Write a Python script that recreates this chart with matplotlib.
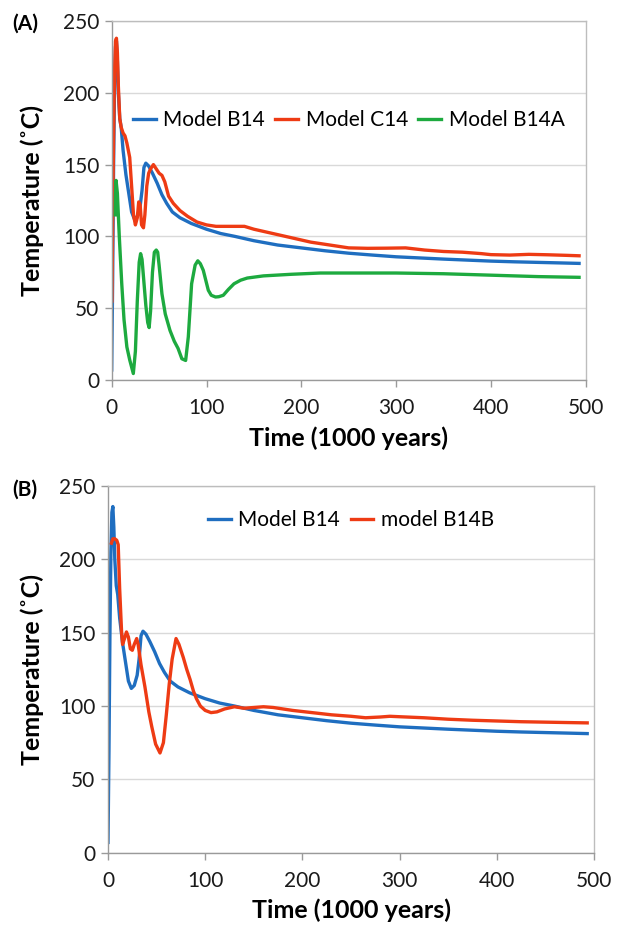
import matplotlib
matplotlib.use("Agg")
import matplotlib.pyplot as plt

plt.rcParams['font.family'] = ['Lato', 'DejaVu Sans']

# ---------------- data ----------------
b14_x = [0, 1, 2, 3, 4, 5, 6, 7, 8.5, 10, 12, 15, 18, 21, 24, 27, 30, 32, 34, 36, 39, 43, 48, 53,
         58, 64, 72, 84, 100, 115, 130, 150, 175, 200, 225, 250, 275, 300, 325, 350, 375, 400,
         425, 450, 475, 493]
b14_y = [7, 70, 150, 205, 232, 236, 222, 200, 182, 176, 160, 143, 130, 117, 112, 114, 121, 132,
         148, 151, 149, 144, 137, 129, 123, 117, 113, 109, 105, 102, 100, 97, 94, 92, 90, 88.3,
         87, 85.8, 85, 84.2, 83.5, 82.8, 82.3, 81.9, 81.5, 81.2]

c14_x = [0.3, 1, 2, 3, 4, 5, 6, 7, 8.5, 10, 12, 14, 16, 19, 21, 23, 25, 27, 28.5, 30, 31.5, 33.5,
         35, 37, 39, 41, 44, 47, 50, 53, 56, 60, 65, 72, 80, 90, 100, 110, 125, 140, 150, 170,
         190, 210, 230, 250, 270, 290, 310, 330, 350, 370, 390, 400, 420, 440, 460, 480, 493]
c14_y = [55, 110, 170, 215, 236, 238, 228, 205, 182, 176, 172, 170, 165, 155, 135, 115, 108, 113,
         124, 122, 108, 106, 115, 135, 144, 147, 150, 147, 144, 142.5, 138, 128, 123, 118, 114,
         110, 108, 107, 107, 107, 105, 102, 99, 96, 94, 92, 91.7, 91.8, 92, 90.5, 89.5, 89, 88,
         87.3, 87, 87.5, 87.2, 86.8, 86.5]

b14a_x = [3.6, 4, 4.6, 6, 8, 10.6, 13, 16, 19, 22.8, 25, 27, 29, 30.5, 32, 34, 36, 38, 39.5, 41,
          43, 45, 47, 48.5, 50, 53, 56.5, 61.5, 66, 70, 74, 78, 80.8, 84.3, 88, 90.8, 93.5, 96.6,
          101.9, 105, 109.5, 113, 117.7, 123, 129, 136, 143, 160, 189, 220, 250, 300, 350, 400,
          450, 493]
b14a_y = [115, 130, 139, 130, 100, 67, 42, 23, 14, 4.5, 20, 55, 82, 88, 84, 68, 52, 40, 36.5, 48,
          75, 89, 90.5, 89, 80, 60, 46, 34.5, 27, 22, 14.8, 13.6, 30, 67, 80, 83, 81, 76.4, 62.5,
          59, 57.8, 58, 59, 63, 67, 69.5, 71, 72.5, 73.6, 74.5, 74.5, 74.5, 74, 73, 72, 71.5]

b14b_x = [3.5, 5, 7, 9, 10.5, 12, 14, 15, 17, 19, 21, 23, 25, 27, 29.5, 31, 34, 38, 42, 45, 49,
          53.5, 57, 60, 63, 66, 70, 73, 77.5, 81, 84.5, 88, 91, 95, 100, 106, 112, 120, 130, 140,
          150, 160, 170, 190, 210, 230, 250, 265, 280, 290, 300, 325, 350, 375, 400, 425, 450,
          475, 493]
b14b_y = [211, 214, 214, 213, 210, 180, 150, 142, 146, 150.5, 147, 139, 138, 142, 146, 142, 128,
          113, 96, 86, 74, 68, 75, 94, 115, 132, 146, 142, 133, 125, 118, 110, 105, 100, 97, 95.5,
          96, 98, 99.5, 98.5, 99, 99.5, 99, 97, 95.5, 94, 93, 92, 92.5, 93, 92.7, 92, 91, 90.3,
          89.8, 89.3, 89, 88.7, 88.5]

x_ticks = [0, 100, 200, 300, 400, 500]
y_ticks = [0, 50, 100, 150, 200, 250]

BLUE = '#1F6EC0'
RED = '#EE3B14'
GREEN = '#1DAA3F'

fig = plt.figure(figsize=(6.18, 9.26), dpi=100)
axA = fig.add_axes([111.7 / 618, 1 - 380 / 926, 474 / 618, 359 / 926])
axB = fig.add_axes([108 / 618, 1 - 852.7 / 926, 486 / 618, 366.7 / 926])


def style(ax):
    ax.set_xlim(0, 500)
    ax.set_ylim(0, 250)
    ax.set_xticks(x_ticks)
    ax.set_yticks(y_ticks)
    ax.set_xticklabels([str(v) for v in x_ticks])
    ax.set_yticklabels([str(v) for v in y_ticks])
    ax.grid(axis='y', color='#d9d9d9', linewidth=1.0)
    ax.set_axisbelow(True)
    for s in ['left', 'bottom']:
        ax.spines[s].set_color('#9a9a9a')
        ax.spines[s].set_linewidth(1.0)
    for s in ['top', 'right']:
        ax.spines[s].set_color('#bdbdbd')
        ax.spines[s].set_linewidth(1.0)
    ax.tick_params(axis='both', direction='out', length=5, width=1, color='#9a9a9a',
                   labelsize=15, labelcolor='#1a1a1a')
    ax.tick_params(axis='x', pad=8)
    ax.tick_params(axis='y', pad=4)
    ax.set_xlabel('Time (1000 years)', fontsize=18, fontweight='bold')
    ax.set_ylabel('Temperature (˚C)', fontsize=18, fontweight='bold')


style(axA)
style(axB)

lw = 2.4
axA.plot(b14_x, b14_y, color=BLUE, lw=lw, label='Model B14', solid_joinstyle='round')
axA.plot(c14_x, c14_y, color=RED, lw=lw, label='Model C14', solid_joinstyle='round')
axA.plot(b14a_x, b14a_y, color=GREEN, lw=lw, label='Model B14A', solid_joinstyle='round')

axB.plot(b14_x, b14_y, color=BLUE, lw=lw, label='Model B14', solid_joinstyle='round')
axB.plot(b14b_x, b14b_y, color=RED, lw=lw, label='model B14B', solid_joinstyle='round')

for ax, yc in [(axA, 0.724), (axB, 0.907)]:
    ax.legend(loc='center', bbox_to_anchor=(0.5, yc), ncol=3, frameon=False, fontsize=15,
              handlelength=1.1, handletextpad=0.35, columnspacing=0.5, borderpad=0)

axA.xaxis.set_label_coords(0.5, -0.128)
axB.xaxis.set_label_coords(0.5, -0.126)
axA.yaxis.set_label_coords(-0.143, 0.5)
axB.yaxis.set_label_coords(-0.132, 0.5)

fig.text(12 / 618, 1 - 24 / 926, '(A)', fontsize=15, fontweight='bold', va='center', ha='left')
fig.text(12 / 618, 1 - 490 / 926, '(B)', fontsize=15, fontweight='bold', va='center', ha='left')

fig.savefig('out.png', dpi=100)
